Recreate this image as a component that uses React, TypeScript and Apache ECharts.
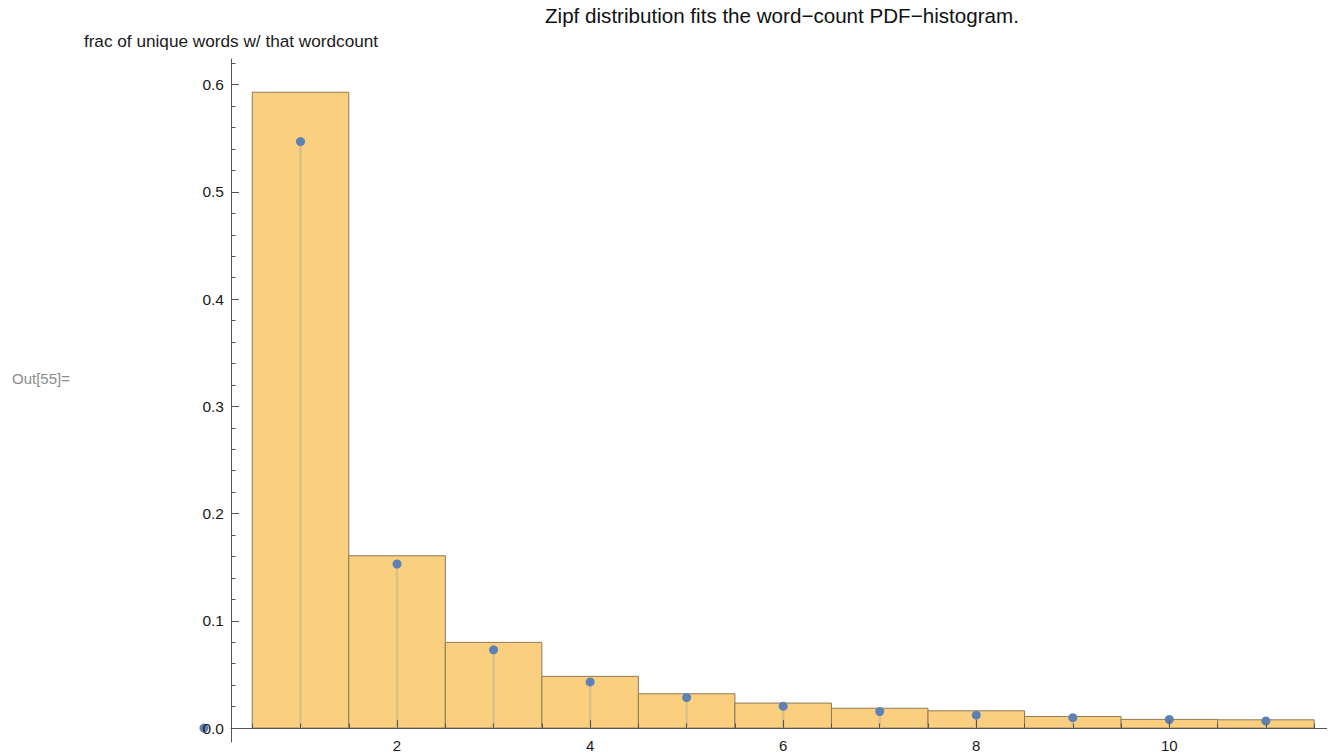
import React, { useEffect, useRef } from "react";
import * as echarts from "echarts";

const titleText = "Zipf distribution fits the word\u2212count PDF\u2212histogram.";
const yAxisTitle = "frac of unique words w/ that wordcount";
const outLabel = "Out[55]=";

// histogram bins (centers) and heights (PDF)
const binCenters = [1, 2, 3, 4, 5, 6, 7, 8, 9, 10, 11];
const binWidth = 1;
const histHeights = [0.593, 0.1607, 0.0799, 0.0482, 0.032, 0.0233, 0.0185, 0.0161, 0.0108, 0.0081, 0.0077];

// fitted Zipf points (stems)
const zipfX = [0, 1, 2, 3, 4, 5, 6, 7, 8, 9, 10, 11];
const zipfY = [0, 0.547, 0.153, 0.073, 0.043, 0.0285, 0.0204, 0.0154, 0.012, 0.0097, 0.008, 0.0067];

// ticks
const xMajorTicks = [2, 4, 6, 8, 10];
const xMinorTicks = [0.5, 1, 1.5, 2.5, 3, 3.5, 4.5, 5, 5.5, 6.5, 7, 7.5, 8.5, 9, 9.5, 10.5, 11, 11.5];
const yMajorTicks = [0, 0.1, 0.2, 0.3, 0.4, 0.5, 0.6];
const yMinorTicks = [
  0.02, 0.04, 0.06, 0.08, 0.12, 0.14, 0.16, 0.18, 0.22, 0.24, 0.26, 0.28,
  0.32, 0.34, 0.36, 0.38, 0.42, 0.44, 0.46, 0.48, 0.52, 0.54, 0.56, 0.58, 0.62,
];

const FONT = "'Liberation Sans', Arial, sans-serif";
const AXIS_COLOR = "#555555";
const LABEL_COLOR = "#1a1a1a";

const W = 1332;
const H = 755;
const GRID = { left: 231, right: 5.3, top: 59, bottom: 13 };
const X_RANGE = { min: 0.28, max: 11.63 };
const Y_RANGE = { min: -0.013, max: 0.624 };

export default function App() {
  const ref = useRef<HTMLDivElement>(null);

  useEffect(() => {
    if (!ref.current) return;
    const chart = echarts.init(ref.current, null, { renderer: "svg" });

    // x axis sits on y = 0 (the y range extends a little below zero)
    const gridH = H - GRID.top - GRID.bottom;
    const zeroOffset = -(gridH * (0 - Y_RANGE.min)) / (Y_RANGE.max - Y_RANGE.min);

    const option: any = {
      animation: false,
      backgroundColor: "#ffffff",
      title: {
        text: titleText,
        left: 545,
        top: 5,
        padding: 0,
        textStyle: { fontSize: 20.6, fontWeight: "normal", color: "#111111", fontFamily: FONT },
      },
      grid: { ...GRID, containLabel: false, outerBoundsMode: "none" },
      xAxis: [
        {
          type: "value",
          position: "bottom",
          offset: zeroOffset,
          ...X_RANGE,
          z: 10,
          axisLine: { show: true, onZero: false, lineStyle: { color: AXIS_COLOR, width: 1 } },
          axisTick: { show: true, inside: true, length: 8, customValues: xMajorTicks, lineStyle: { color: AXIS_COLOR, width: 1 } },
          axisLabel: {
            show: true,
            customValues: xMajorTicks,
            margin: 10,
            fontSize: 15,
            color: LABEL_COLOR,
            fontFamily: FONT,
            formatter: (v: number) => String(v),
          },
          splitLine: { show: false },
        },
        {
          type: "value",
          position: "bottom",
          offset: zeroOffset,
          ...X_RANGE,
          z: 10,
          axisLine: { show: false, onZero: false },
          axisTick: { show: true, inside: true, length: 4.5, customValues: xMinorTicks, lineStyle: { color: AXIS_COLOR, width: 1 } },
          axisLabel: { show: false },
          splitLine: { show: false },
        },
      ],
      yAxis: [
        {
          type: "value",
          position: "left",
          ...Y_RANGE,
          z: 10,
          name: yAxisTitle,
          nameLocation: "end",
          nameGap: 10,
          nameTextStyle: { fontSize: 17.2, color: LABEL_COLOR, fontFamily: FONT, align: "center" },
          axisLine: { show: true, onZero: false, lineStyle: { color: AXIS_COLOR, width: 1 } },
          axisTick: { show: true, inside: true, length: 8, customValues: yMajorTicks, lineStyle: { color: AXIS_COLOR, width: 1 } },
          axisLabel: {
            show: true,
            customValues: yMajorTicks,
            margin: 7,
            fontSize: 15.5,
            color: LABEL_COLOR,
            fontFamily: FONT,
            formatter: (v: number) => v.toFixed(1),
          },
          splitLine: { show: false },
        },
        {
          type: "value",
          position: "left",
          ...Y_RANGE,
          z: 10,
          axisLine: { show: false, onZero: false },
          axisTick: { show: true, inside: true, length: 4.5, customValues: yMinorTicks, lineStyle: { color: AXIS_COLOR, width: 1 } },
          axisLabel: { show: false },
          splitLine: { show: false },
        },
      ],
      graphic: [
        {
          type: "text",
          left: 12,
          top: 371,
          style: { text: outLabel, fontSize: 15, fill: "#8c8c8c", fontFamily: FONT },
        },
      ],
      series: [
        {
          type: "custom",
          name: "histogram",
          xAxisIndex: 0,
          yAxisIndex: 0,
          z: 2,
          data: binCenters.map((c, i) => [c, histHeights[i]]),
          renderItem: (_params: any, api: any) => {
            const x = api.value(0);
            const h = api.value(1);
            const p0 = api.coord([x - binWidth / 2, h]);
            const p1 = api.coord([x + binWidth / 2, 0]);
            return {
              type: "rect",
              shape: { x: p0[0], y: p0[1], width: p1[0] - p0[0], height: p1[1] - p0[1] },
              style: { fill: "#FBCF80", stroke: "#8f7a58", lineWidth: 1 },
            };
          },
        },
        {
          type: "custom",
          name: "stems",
          xAxisIndex: 0,
          yAxisIndex: 0,
          z: 3,
          data: zipfX.map((x, i) => [x, zipfY[i]]),
          renderItem: (_params: any, api: any) => {
            const x = api.value(0);
            const y = api.value(1);
            const a = api.coord([x, 0]);
            const b = api.coord([x, y]);
            return {
              type: "line",
              shape: { x1: a[0], y1: a[1], x2: b[0], y2: b[1] },
              style: { stroke: "#dcc08a", lineWidth: 2.5 },
            };
          },
        },
        {
          type: "scatter",
          name: "zipf",
          xAxisIndex: 0,
          yAxisIndex: 0,
          z: 4,
          clip: false,
          symbol: "circle",
          symbolSize: 9,
          itemStyle: { color: "#5E81B5", opacity: 1 },
          data: zipfX.map((x, i) => [x, zipfY[i]]),
        },
      ],
    };

    chart.setOption(option);
    return () => {
      chart.dispose();
    };
  }, []);

  return (
    <div
      ref={ref}
      style={{ position: "fixed", left: 0, top: 0, width: W, height: H, background: "#ffffff" }}
    />
  );
}
